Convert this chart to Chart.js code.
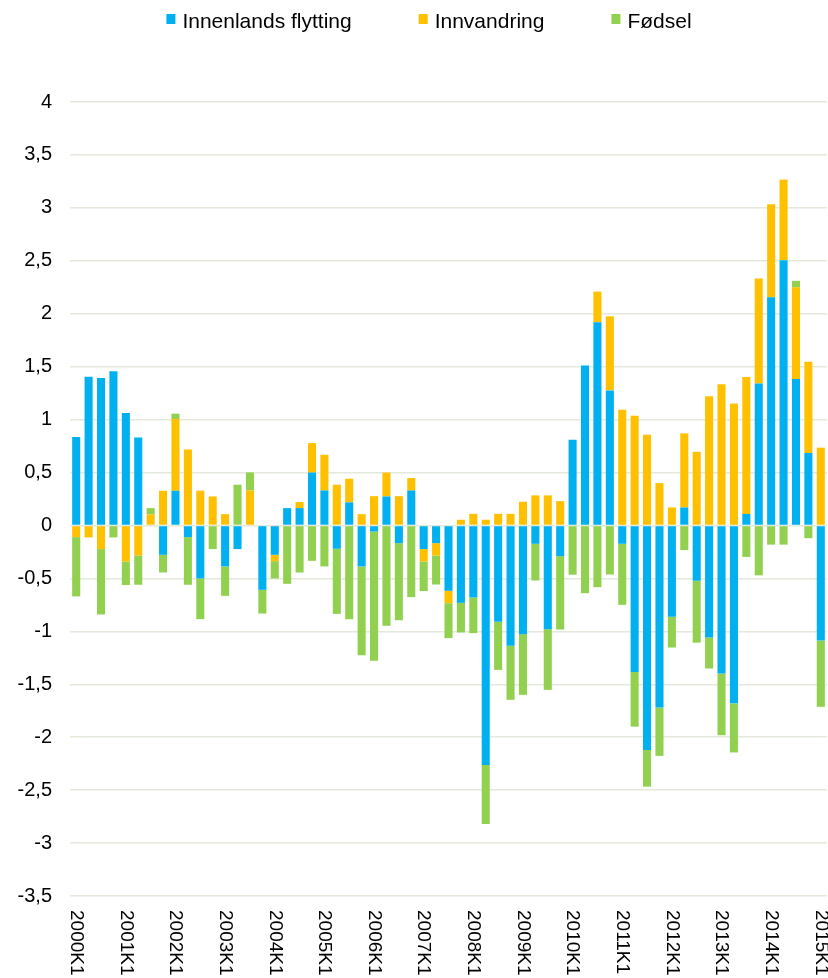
<!DOCTYPE html>
<html>
<head>
<meta charset="utf-8">
<script src="https://cdn.jsdelivr.net/npm/chart.js@4.4.0/dist/chart.umd.min.js"></script>
<style>
    body { margin: 0; background: #fff; }
    #wrap { width: 828px; height: 978px; position: relative; }
</style>
</head>
<body>
<div id="wrap"><canvas id="befChart"></canvas></div>
<script>
const quarters = [
    '2000K1','2000K2','2000K3','2000K4','2001K1','2001K2','2001K3','2001K4',
    '2002K1','2002K2','2002K3','2002K4','2003K1','2003K2','2003K3','2003K4',
    '2004K1','2004K2','2004K3','2004K4','2005K1','2005K2','2005K3','2005K4',
    '2006K1','2006K2','2006K3','2006K4','2007K1','2007K2','2007K3','2007K4',
    '2008K1','2008K2','2008K3','2008K4','2009K1','2009K2','2009K3','2009K4',
    '2010K1','2010K2','2010K3','2010K4','2011K1','2011K2','2011K3','2011K4',
    '2012K1','2012K2','2012K3','2012K4','2013K1','2013K2','2013K3','2013K4',
    '2014K1','2014K2','2014K3','2014K4','2015K1'
];

const innenlands = [
    0.835, 1.405, 1.393, 1.456, 1.062, 0.832, 0, -0.277,
    0.328, -0.11, -0.5, 0, -0.387, -0.223, 0, -0.608,
    -0.277, 0.164, 0.164, 0.5, 0.331, -0.22, 0.218, -0.387,
    -0.057, 0.274, -0.167, 0.331, -0.223, -0.167, -0.617, -0.731,
    -0.68, -2.262, -0.91, -1.137, -1.027, -0.173, -0.98, -0.29,
    0.81, 1.51, 1.919, 1.276, -0.173, -1.383, -2.12, -1.72,
    -0.863, 0.17, -0.522, -1.058, -1.398, -1.68, 0.109, 1.34,
    2.155, 2.506, 1.384, 0.685, -1.087
];

const innvandring = [
    -0.11, -0.113, -0.223, 0, -0.34, -0.283, 0.104, 0.328,
    0.678, 0.718, 0.328, 0.274, 0.107, 0, 0.331, 0,
    -0.06, 0, 0.057, 0.278, 0.337, 0.385, 0.223, 0.107,
    0.277, 0.226, 0.277, 0.117, -0.117, -0.117, -0.117, 0.054,
    0.11, 0.054, 0.11, 0.11, 0.224, 0.284, 0.284, 0.23,
    0, 0, 0.29, 0.7, 1.094, 1.037, 0.857, 0.4,
    0.17, 0.7, 0.696, 1.22, 1.333, 1.152, 1.293, 0.992,
    0.88, 0.761, 0.865, 0.862, 0.735
];

const fodsel = [
    -0.56, 0, -0.618, -0.113, -0.223, -0.277, 0.06, -0.167,
    0.05, -0.45, -0.385, -0.223, -0.278, 0.385, 0.17, -0.224,
    -0.164, -0.551, -0.444, -0.334, -0.387, -0.615, -0.885, -0.838,
    -1.222, -0.948, -0.728, -0.677, -0.28, -0.274, -0.33, -0.28,
    -0.337, -0.558, -0.454, -0.51, -0.573, -0.347, -0.573, -0.693,
    -0.465, -0.64, -0.583, -0.463, -0.577, -0.517, -0.347, -0.457,
    -0.29, -0.232, -0.585, -0.293, -0.583, -0.464, -0.297, -0.471,
    -0.181, -0.181, 0.062, -0.12, -0.626
];

const seriesNames = ['Innenlands flytting', 'Innvandring', 'Fødsel'];
const seriesColors = ['#00b0f0', '#ffc000', '#92d050'];

const yMin = -3.5;
const yMax = 4;
const yStep = 0.5;

const FONT = '"Liberation Sans", Arial, sans-serif';

// legend drawn by hand so the item spacing matches the original
const legendPlugin = {
    id: 'topLegend',
    afterDraw(chart) {
        const ctx = chart.ctx;
        const boxW = 9, boxH = 10, textGap = 16, itemGap = 67;
        ctx.save();
        ctx.font = '21px ' + FONT;
        const items = chart.data.datasets.map(ds => ({
            text: ds.label,
            color: ds.backgroundColor,
            w: textGap + ctx.measureText(ds.label).width
        }));
        const total = items.reduce((s, it) => s + it.w, 0) + itemGap * (items.length - 1);
        let x = 429 - total / 2;
        items.forEach(it => {
            ctx.fillStyle = it.color;
            ctx.fillRect(x, 14, boxW, boxH);
            ctx.fillStyle = '#000';
            ctx.textBaseline = 'alphabetic';
            ctx.textAlign = 'left';
            ctx.fillText(it.text, x + textGap, 27.5);
            x += it.w + itemGap;
        });
        ctx.restore();
    }
};

// x labels rotated clockwise, one per year
const xLabelPlugin = {
    id: 'xLabels',
    afterDraw(chart) {
        const ctx = chart.ctx;
        const xs = chart.scales.x;
        const top = chart.chartArea.bottom + 14;
        ctx.save();
        ctx.font = '19px ' + FONT;
        ctx.fillStyle = '#000';
        ctx.textAlign = 'left';
        ctx.textBaseline = 'middle';
        chart.data.labels.forEach((lab, i) => {
            if (i % 4 !== 0) return;
            const x = xs.getPixelForValue(i);
            ctx.save();
            ctx.translate(x, top);
            ctx.rotate(Math.PI / 2);
            ctx.fillText(lab, 0, 0);
            ctx.restore();
        });
        ctx.restore();
    }
};

function makeDataset(label, data, color) {
    return {
        label: label,
        data: data,
        backgroundColor: color,
        borderWidth: 0,
        barPercentage: 0.65,
        categoryPercentage: 1.0
    };
}

const ctx = document.getElementById('befChart').getContext('2d');
new Chart(ctx, {
    type: 'bar',
    data: {
        labels: quarters,
        datasets: [
            makeDataset(seriesNames[0], innenlands, seriesColors[0]),
            makeDataset(seriesNames[1], innvandring, seriesColors[1]),
            makeDataset(seriesNames[2], fodsel, seriesColors[2])
        ]
    },
    options: {
        responsive: true,
        maintainAspectRatio: false,
        animation: false,
        layout: {
            padding: { top: 102, bottom: 82, left: 0, right: 1 }
        },
        plugins: {
            legend: { display: false },
            tooltip: { enabled: false }
        },
        scales: {
            x: {
                stacked: true,
                offset: true,
                grid: { display: false },
                border: { display: false },
                ticks: { display: false },
                afterFit: function(scale) { scale.height = 0; }
            },
            y: {
                stacked: true,
                min: yMin,
                max: yMax,
                border: { display: false },
                grid: {
                    color: '#e4eadb',
                    lineWidth: 1.5,
                    drawTicks: false
                },
                ticks: {
                    stepSize: yStep,
                    padding: 18,
                    color: '#000',
                    font: { family: FONT, size: 20 },
                    callback: function(value) {
                        return String(value).replace('.', ',');
                    }
                },
                afterFit: function(scale) { scale.width = 70; }
            }
        }
    },
    plugins: [legendPlugin, xLabelPlugin]
});
</script>
</body>
</html>
